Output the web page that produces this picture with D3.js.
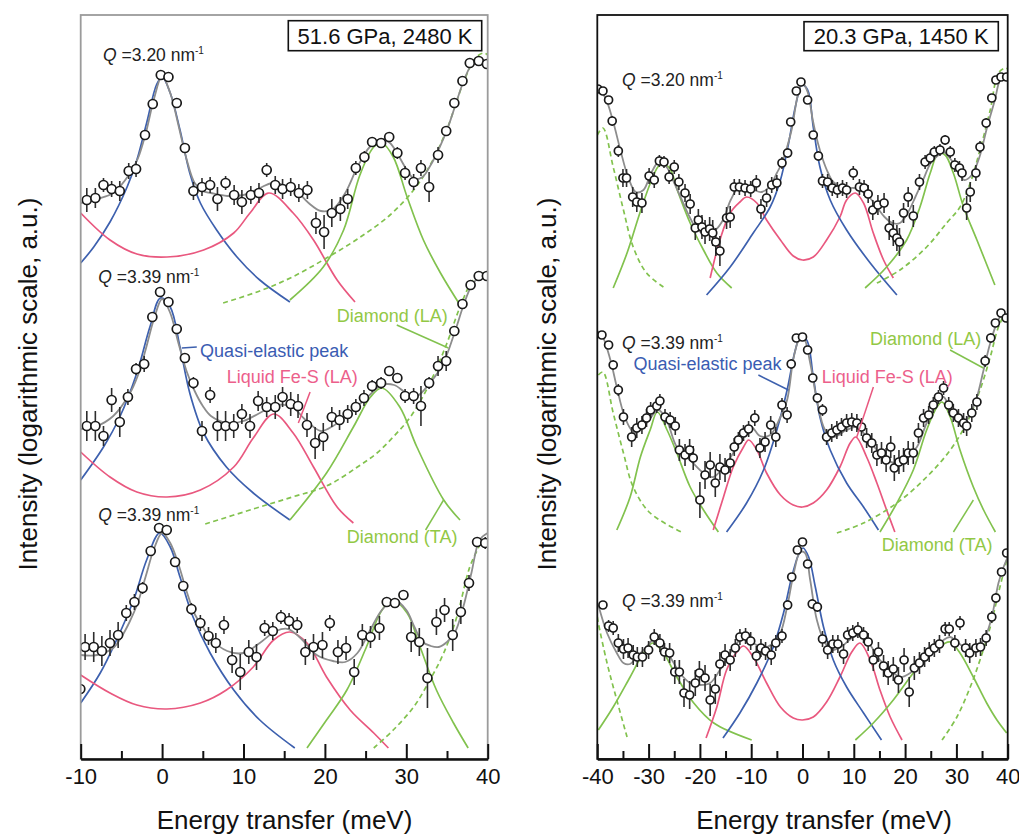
<!DOCTYPE html>
<html>
<head>
<meta charset="utf-8">
<script src="https://cdn.jsdelivr.net/npm/d3@7"></script>
<style>
  body { margin: 0; background: #fff; }
  svg { display: block; }
  text { font-family: "Liberation Sans", Arial, sans-serif; }
</style>
</head>
<body>
<svg id="chart" width="1019" height="837"></svg>
<script>
// ---------------- data ----------------
// Panel A: 51.6 GPa, 2480 K   (energy transfer in meV, intensity in log a.u., offsets included)
const p516_ticks = [-10, 0, 10, 20, 30, 40];
const p516_minor = [-5, 5, 15, 25, 35];

const p516_q320_E = [-9.25,-8.2,-7.2,-6.2,-5.2,-4.1,-3.2,-2.1,-1.15,-0.16,0.78,1.8,2.8,3.85,4.9,5.9,6.8,7.8,8.85,9.8,10.9,11.9,12.85,13.9,14.8,15.8,16.8,17.85,18.9,19.9,20.85,21.9,22.8,23.8,24.85,25.8,26.9,27.9,28.9,29.85,30.9,31.8,32.8,33.9,34.9,35.9,36.9,37.8,38.9,39.9];
const p516_q320_I = [55.9,56.1,57.4,57.0,56.8,58.8,59.0,62.4,65.5,68.4,68.2,65.6,61.1,56.8,57.2,57.4,56.0,57.6,56.4,55.7,56.4,56.6,58.9,57.4,57.0,57.2,56.6,56.9,53.6,52.7,54.6,55.0,56.0,59.1,60.2,61.7,61.6,62.2,60.6,58.6,57.7,59.1,57.2,60.4,62.8,65.6,67.8,69.6,69.8,69.5];
const p516_q320_err = [1.2,1.0,0.7,0.8,1.0,0.8,0.8,0.5,0.4,0.3,0.3,0.4,0.5,0.9,0.9,0.8,1.2,0.7,1.0,1.2,0.9,1.0,0.7,0.9,1.0,0.9,0.9,0.9,1.1,1.7,1.4,1.2,1.0,0.7,0.6,0.5,0.5,0.5,0.6,0.7,0.8,0.8,1.5,0.8,0.5,0.4,0.3,0.3,0.3,0.3];
const p516_q320_fit = [[-10,55.6],[-8,56.0],[-6,56.6],[-4,58.5],[-3,60.0],[-2,62.6],[-1,66.0],[0,68.3],[1,66.6],[2,63.4],[3,60.0],[4,57.6],[5,56.8],[6,56.6],[8,56.3],[10,56.4],[12,57.1],[13.5,57.6],[15,57.4],[16.5,56.8],[18,55.6],[19.5,54.8],[21,55.0],[22.5,56.6],[24,59.2],[25.5,61.2],[27,62.0],[28,61.6],[29,60.4],[30,59.0],[31,58.0],[32,58.2],[33,59.4],[34,61.0],[35,62.9],[36,65.3],[37,67.7],[38,69.4],[39,70.0],[40,69.6]];
const p516_q320_qe = [[-10,49.6],[-8.4,51.2],[-6.4,53.7],[-4.3,57.2],[-3.1,59.9],[-1.9,63.6],[-0.65,67.5],[0,68.2],[1.0,66.6],[2.2,62.9],[3.4,58.6],[4.7,55.6],[6.7,52.9],[9.2,50.2],[12.0,47.9],[15.7,45.7]];
const p516_q320_lfs = [[-10,54.6],[-6.4,51.9],[-3.1,50.5],[0.6,50.2],[5.1,50.9],[8.8,52.6],[10.8,54.6],[13.1,56.6],[16.1,54.6],[18.6,51.9],[21.5,47.9],[23.7,45.7]];
const p516_q320_ta = [[15.7,45.9],[19.8,49.2],[22.3,52.9],[24.3,58.4],[26.0,61.2],[27.0,61.6],[28.4,60.2],[30.1,56.2],[32.1,51.9],[34.2,48.6],[36.6,45.4]];
const p516_q320_la = [[7.5,45.6],[12,46.8],[16,48.2],[20,50.0],[24,52.0],[28,54.4],[31,57.0],[33,59.5],[35,63.0],[37,67.6],[38.5,70.1],[39.5,70.6],[40,70.4]];

const p516_q339a_E = [-9.25,-8.2,-7.2,-6.2,-5.2,-4.2,-3.2,-2.2,-1.2,-0.25,0.78,1.8,2.8,3.85,4.9,5.9,6.8,7.8,8.8,9.8,10.8,11.8,12.85,13.9,14.8,15.8,16.7,17.8,18.8,19.8,20.85,21.8,22.8,23.8,24.8,25.8,26.9,27.9,28.9,29.85,30.9,31.8,32.8,33.9,34.9,35.9,36.9,37.9,38.9,39.9];
const p516_q339a_I = [33.3,33.3,32.3,35.9,33.7,36.2,39.0,39.5,44.2,46.7,45.7,43.0,40.1,37.6,32.8,36.4,33.3,33.3,33.3,34.5,33.3,35.8,35.2,35.2,36.2,35.5,35.3,33.4,31.6,32.2,34.2,33.9,34.5,35.2,36.1,37.3,37.6,38.8,38.1,36.3,36.3,35.3,37.6,39.3,39.8,42.8,45.5,47.4,48.3,48.3];
const p516_q339a_err = [1.5,1.5,1.0,1.2,1.5,0.8,0.6,0.8,0.4,0.3,0.3,0.4,0.5,0.6,1.0,0.8,1.5,1.5,1.2,1.0,1.2,1.0,1.0,1.2,1.0,1.2,1.2,1.2,1.6,1.4,1.0,1.0,0.9,0.8,0.8,0.6,0.6,0.5,0.5,0.7,0.8,2.0,0.6,1.0,1.0,0.5,0.4,0.3,0.3,0.3];
const p516_q339a_fit = [[-10,33.0],[-8,33.3],[-6,34.3],[-4,36.5],[-3,38.3],[-2,41.0],[-1,44.0],[0,46.0],[1,44.6],[2,41.6],[3,38.8],[4,36.8],[5,35.3],[6,34.3],[8,33.6],[10,33.8],[12,34.6],[14,35.4],[16,35.2],[17.5,34.0],[19.5,32.8],[21,33.3],[23,34.6],[25,36.0],[27,37.4],[28.5,37.4],[30,36.6],[31.3,36.3],[33,37.7],[34.5,39.5],[36,42.8],[37,45.3],[38,47.3],[39,48.2],[40,48.2]];
const p516_q339a_qe = [[-10,27.9],[-7.2,31.2],[-5.2,34.2],[-3.1,38.6],[-1.5,43.2],[-0.2,46.1],[1.0,45.2],[2.2,41.2],[3.4,36.6],[5.1,32.6],[7.9,29.2],[11.2,26.6],[15.7,23.9]];
const p516_q339a_lfs = [[-10,30.7],[-6.4,28.2],[-3.1,26.7],[0.6,26.2],[4.7,26.9],[8.8,29.2],[11.2,32.1],[13.7,34.5],[16.1,32.6],[18.6,29.2],[21.5,25.2],[23.5,23.6]];
const p516_q339a_ta = [[15.7,23.9],[20.2,28.6],[23.5,33.2],[25.6,36.2],[27.0,37.1],[29.2,35.2],[31.3,31.2],[34.6,25.9],[36.6,23.9]];
const p516_q339a_la = [[5.3,23.5],[11.2,25.0],[16,26.2],[20.2,27.3],[24,29.2],[26.4,30.6],[28.5,32.3],[30.5,34.2],[32.9,37.6],[35,41.6],[36.6,45.2],[38.2,47.9],[39.5,48.6],[40,48.5]];

const p516_q339b_E = [-10.05,-9.46,-8.4,-7.4,-6.4,-5.4,-4.4,-3.4,-2.4,-1.4,-0.37,0.57,1.6,2.6,3.6,4.7,5.7,6.6,7.6,8.6,9.6,10.65,11.6,12.6,13.6,14.6,15.6,16.6,17.6,18.6,19.7,20.6,21.6,22.6,23.6,24.6,25.6,26.7,27.6,28.6,29.65,30.6,31.6,32.6,33.7,34.7,35.7,36.7,37.7,38.7,39.7];
const p516_q339b_I = [7.0,11.2,11.2,10.8,11.6,12.4,14.6,15.7,17.1,20.8,23.1,22.9,19.7,17.3,15.0,13.6,12.3,11.6,13.4,9.9,8.7,10.7,10.2,13.1,12.8,14.2,13.8,13.4,10.7,11.2,11.4,13.6,10.7,11.1,8.7,12.4,12.2,13.1,15.7,15.6,16.4,12.2,11.7,8.1,13.7,14.9,12.4,14.7,17.6,21.7,21.6];
const p516_q339b_err = [0.5,1.3,1.5,1.5,1.3,1.3,0.8,0.8,0.6,0.3,0.3,0.3,0.3,0.5,0.6,0.8,0.9,1.0,0.9,1.3,1.8,1.2,1.3,0.8,0.9,0.7,0.8,0.8,1.3,1.3,1.3,0.8,1.2,1.2,1.3,1.1,1.1,1.2,0.5,0.5,0.5,1.5,1.4,3.0,1.3,1.2,1.6,1.2,0.8,0.5,0.6];
const p516_q339b_fit = [[-10,10.4],[-8,10.4],[-6,11.1],[-5,12.2],[-4,13.7],[-3,15.6],[-2,18.3],[-1,21.0],[0,22.6],[1,21.6],[2,19.5],[3,16.8],[4,14.5],[5,13.2],[6,12.0],[8,10.8],[10,10.6],[12,11.6],[14,12.8],[15.5,13.0],[17,12.1],[19,10.4],[21,9.8],[22.5,9.7],[24,10.6],[25.5,12.8],[27,14.9],[28.5,15.9],[30,14.9],[31,13.2],[32,11.7],[33,11.3],[34,11.2],[35,11.7],[36,12.7],[37,15.2],[38,18.6],[39,21.9],[40,22.6]];
const p516_q339b_qe = [[-10,5.6],[-7.6,8.6],[-5.6,11.9],[-3.5,15.9],[-1.9,19.9],[-0.3,22.6],[1.0,21.2],[2.2,18.2],[3.8,14.2],[5.9,10.6],[8.8,6.9],[12.0,3.9],[16.3,1.1]];
const p516_q339b_lfs = [[-10,8.4],[-6.4,6.6],[-3.1,5.4],[0.6,5.0],[4.7,5.6],[7.9,6.9],[11.2,9.2],[13.7,11.9],[15.7,12.7],[17.8,11.6],[20.2,8.2],[23.1,4.9],[26.0,2.6],[27.8,1.1]];
const p516_q339b_ta = [[17.8,1.1],[20.2,3.9],[22.7,6.9],[25.1,11.2],[26.8,14.6],[28.2,15.9],[30.1,14.6],[31.7,11.2],[33.7,6.9],[35.8,3.6],[37.6,1.1]];
const p516_q339b_la = [[26.0,1.1],[28.4,2.9],[30.9,5.2],[32.9,7.9],[34.6,10.6],[36.2,14.2],[37.8,19.2],[38.9,21.2],[39.3,21.9],[40,21.4]];

// Panel B: 20.3 GPa, 1450 K
const p203_ticks = [-40, -30, -20, -10, 0, 10, 20, 30, 40];
const p203_minor = [-35, -25, -15, -5, 5, 15, 25, 35];

const p203_q320_E = [-39.9,-38.9,-37.8,-37.1,-35.9,-35.0,-34.3,-33.1,-32.3,-31.3,-29.9,-28.9,-27.9,-27.0,-26.0,-25.0,-24.1,-22.9,-21.9,-20.9,-20.3,-19.6,-19.0,-18.1,-17.5,-16.9,-16.1,-14.8,-14.1,-13.3,-12.3,-11.2,-10.1,-9.0,-8.1,-7.0,-6.0,-5.0,-4.0,-2.9,-2.3,-1.2,-0.3,1.0,2.1,3.1,3.9,4.9,5.8,6.8,7.8,8.6,9.9,11.1,12.0,12.8,13.7,14.7,15.9,16.9,17.7,18.4,18.9,19.7,20.6,21.6,22.8,23.9,24.9,25.7,26.8,27.8,28.8,29.7,30.6,31.1,32.0,32.7,33.8,34.6,35.8,36.9,37.7,38.7,39.8];
const p203_q320_I = [67.0,66.8,65.9,63.8,60.8,58.1,58.1,56.2,55.7,55.6,58.3,57.9,59.8,59.7,58.2,59.2,57.7,56.6,55.5,53.1,53.9,53.2,52.7,53.0,52.6,51.7,50.8,54.1,54.2,57.2,57.2,57.1,57.0,57.6,55.0,56.1,57.4,57.6,59.6,60.6,63.7,66.8,67.7,65.9,62.4,60.3,57.8,57.7,57.1,56.9,57.1,56.9,58.6,57.2,57.1,56.5,54.9,55.4,55.6,53.1,52.6,52.1,51.7,54.6,56.2,54.3,57.7,59.7,60.1,60.7,60.9,61.9,60.7,59.4,59.1,58.6,55.1,56.7,58.6,61.2,63.6,66.1,67.9,68.2,68.2];
const p203_q320_err = [0.3,0.3,0.4,0.5,0.6,0.9,0.9,1.0,1.0,1.0,0.8,0.8,0.6,0.6,0.7,0.7,0.8,0.9,1.0,1.2,1.1,1.2,1.2,1.2,1.3,1.4,1.5,1.1,1.1,0.8,0.8,0.8,0.8,0.8,1.0,0.9,0.8,0.8,0.6,0.5,0.4,0.3,0.3,0.3,0.4,0.5,0.7,0.8,0.8,0.8,0.8,0.8,0.7,0.8,0.8,0.9,1.0,1.0,1.0,1.2,1.3,1.3,1.4,1.0,1.0,1.1,0.8,0.7,0.6,0.6,0.6,0.5,0.6,0.7,0.7,0.8,1.2,1.0,0.8,0.6,0.5,0.4,0.3,0.3,0.3];
const p203_q320_fit = [[-40,67.1],[-38.5,66.2],[-37,63.9],[-35.5,60.9],[-34,58.2],[-32.5,56.7],[-31,56.9],[-29.5,58.6],[-28,59.7],[-26.5,59.2],[-25,57.6],[-23.5,55.9],[-22,54.2],[-20.5,52.9],[-19,52.6],[-17,52.9],[-15.5,53.9],[-14,55.9],[-12.5,57.1],[-11,57.2],[-9.5,56.9],[-8,56.7],[-6.5,57.2],[-5,58.6],[-4,59.6],[-3,61.2],[-2,63.2],[-1,66.2],[0,67.6],[1,66.7],[2,63.9],[3,61.6],[4,59.9],[5,58.6],[6,57.7],[8,57.1],[10,57.1],[11.5,56.9],[13,56.2],[14.5,55.2],[16,54.2],[17.5,53.6],[19,53.6],[20.5,54.6],[22,56.2],[23.5,57.9],[25,59.6],[26.5,60.4],[27.5,60.7],[29,59.9],[30.5,58.6],[31.5,57.9],[33,58.4],[34.5,60.2],[36,63.2],[37.5,65.9],[38.5,67.9],[39.5,68.4],[40,68.2]];
const p203_q320_laL = [[-40,62.4],[-38.9,63.1],[-36.9,59.2],[-34.9,54.9],[-33.0,51.2],[-30.4,48.6],[-27.1,47.2]];
const p203_q320_taL = [[-36.9,47.1],[-34.2,50.6],[-31.7,54.6],[-29.4,57.9],[-27.8,59.4],[-26.1,59.2],[-24.2,56.6],[-21.9,53.6],[-19.3,50.9],[-16.7,48.6],[-13.8,47.1]];
const p203_q320_lfs = [[-18.0,48.1],[-16.1,51.9],[-14.1,54.6],[-12.2,55.7],[-10.9,56.2],[-8.9,55.6],[-7.0,53.9],[-4.3,51.9],[-1.8,50.3],[0,49.9],[2.1,50.2],[4.7,51.9],[7.3,54.2],[8.6,55.9],[10.3,56.6],[11.9,55.6],[13.8,52.6],[15.8,49.9],[17.7,48.1]];
const p203_q320_qe = [[-18.7,46.4],[-14.1,49.2],[-9.6,52.6],[-6.3,55.2],[-4.3,57.9],[-2.7,61.6],[-1.4,65.2],[-0.1,67.4],[1.0,66.9],[2.1,63.2],[3.4,59.2],[5.4,55.9],[8.6,52.9],[13.2,49.6],[18.4,46.4]];
const p203_q320_taR = [[12.2,47.1],[16.4,49.2],[20.3,51.9],[22.9,55.2],[24.9,58.6],[26.5,60.6],[27.8,60.4],[29.4,58.6],[31.4,55.2],[34.0,51.9],[37.5,47.4]];
const p203_q320_laR = [[14.5,47.6],[19.0,48.9],[24.2,51.2],[28.1,53.6],[30.7,55.2],[32.7,57.6],[34.6,60.9],[36.6,64.9],[38.2,68.6],[39.5,69.1],[40,69.0]];

const p203_q339a_E = [-39.1,-37.8,-36.9,-35.9,-34.9,-33.3,-32.3,-31.3,-30.4,-29.6,-28.4,-27.8,-26.8,-25.8,-24.8,-24.0,-22.9,-22.0,-21.3,-20.0,-19.0,-18.0,-17.0,-16.1,-15.1,-14.1,-13.3,-12.5,-11.5,-10.5,-9.3,-8.3,-7.3,-6.2,-5.2,-4.0,-3.0,-2.2,-1.2,0.0,1.0,2.0,2.9,3.9,4.7,5.7,6.7,7.6,8.6,9.6,10.6,11.5,12.5,13.5,14.5,15.4,16.3,17.2,17.9,18.8,19.7,20.6,21.6,22.6,23.6,24.6,25.5,26.5,27.5,28.5,29.4,30.4,31.4,32.0,33.0,34.0,35.6,36.7,37.6,38.7,39.7];
const p203_q339a_I = [42.4,41.4,39.4,36.9,34.2,32.2,33.1,33.4,34.1,34.9,35.3,35.8,34.2,33.9,33.3,30.9,30.4,30.9,30.1,25.9,28.4,29.4,27.6,29.2,28.9,29.6,31.2,31.9,32.6,33.0,34.1,31.1,31.7,33.4,32.2,35.4,34.4,39.5,42.1,42.2,40.9,38.1,36.1,34.9,32.2,32.6,32.9,33.2,33.6,33.7,33.6,33.2,32.1,31.6,30.4,30.6,29.9,31.2,29.1,29.7,29.9,30.6,30.6,32.6,34.1,34.4,35.4,36.2,37.1,35.4,34.6,34.1,33.6,33.3,34.6,35.7,39.8,42.1,43.6,44.6,44.1];
const p203_q339a_err = [0.4,0.4,0.5,0.6,0.8,1.0,1.0,0.9,0.9,0.8,0.7,0.7,0.8,0.8,0.9,1.1,1.1,1.1,1.2,1.8,1.4,1.3,1.4,1.3,1.2,1.0,0.9,0.8,0.8,0.8,0.8,1.0,1.0,0.9,1.0,0.7,0.8,0.5,0.3,0.3,0.3,0.4,0.5,0.6,0.8,0.9,0.9,0.9,0.9,0.9,0.9,0.9,1.0,1.0,1.1,1.1,1.2,1.1,1.3,1.2,1.2,1.2,1.1,1.0,0.9,0.9,0.8,0.7,0.7,0.8,0.9,0.9,1.0,1.0,0.9,0.8,0.6,0.5,0.4,0.3,0.4];
const p203_q339a_fit = [[-40,42.8],[-39.1,42.4],[-37.5,40.0],[-36.2,37.2],[-34.9,34.6],[-33.5,33.0],[-32.6,32.6],[-30.4,33.6],[-28.1,34.9],[-26.5,33.9],[-24.5,31.2],[-21.9,29.9],[-19.3,28.6],[-17.4,28.2],[-15.4,29.2],[-13.5,30.6],[-12,32.2],[-10,33.2],[-8.3,32.3],[-6.3,32.4],[-4.3,34.2],[-3.0,35.9],[-1.7,40.2],[-0.45,42.2],[0.2,42.2],[1.5,39.6],[2.8,35.9],[4.4,32.9],[6.0,32.2],[8.6,32.9],[10.6,33.2],[12.5,32.2],[14.5,30.9],[16.4,29.9],[18.4,29.6],[20.3,30.2],[22.3,31.2],[24.2,33.6],[26.2,35.6],[27.5,36.2],[28.8,34.9],[30.1,33.9],[31.4,33.6],[32.7,34.6],[34.0,36.2],[35.3,38.9],[36.6,41.6],[37.9,43.6],[38.9,44.4],[40,43.9]];
const p203_q339a_laL = [[-39.8,38.4],[-38.9,38.7],[-36.9,34.6],[-34.9,30.6],[-33.0,27.2],[-29.7,24.6],[-23.2,22.6]];
const p203_q339a_taL = [[-36.2,22.9],[-33.6,26.2],[-31.6,30.2],[-29.7,32.9],[-28.3,34.7],[-26.4,32.9],[-24.5,30.6],[-21.9,27.2],[-19.3,24.9],[-16.4,22.7]];
const p203_q339a_lfs = [[-17.4,22.9],[-15.4,26.2],[-13.5,29.2],[-11.5,31.2],[-10.5,31.9],[-8.9,30.9],[-7.0,28.6],[-4.3,26.4],[-1.8,25.4],[0,25.2],[2.1,25.6],[4.7,26.9],[7.3,29.2],[9.3,31.6],[10.4,32.2],[12.5,30.2],[14.5,27.6],[16.4,24.9],[18.0,22.7]];
const p203_q339a_qe = [[-14.8,22.7],[-10.9,25.6],[-7.6,28.9],[-5.0,32.9],[-3.0,36.9],[-1.4,40.9],[-0.45,42.2],[0.8,41.9],[2.1,38.2],[3.4,34.2],[5.4,30.9],[8.6,27.6],[11.9,25.2],[14.8,22.9]];
const p203_q339a_taR = [[15.1,22.7],[18.4,25.6],[21.6,28.9],[24.2,32.9],[26.2,35.2],[27.2,35.7],[28.8,34.2],[30.7,30.9],[33.3,27.2],[35.3,24.9],[37.6,22.7]];
const p203_q339a_laR = [[6.7,22.6],[11.9,23.6],[18.4,25.6],[24.2,28.2],[28.8,30.9],[32.0,33.6],[34.6,36.9],[36.6,40.2],[38.2,43.2],[39.5,44.4],[40,44.3]];

const p203_q339b_E = [-38.9,-37.8,-36.9,-35.9,-34.9,-34.0,-33.0,-32.2,-31.2,-30.0,-28.9,-27.8,-26.9,-25.9,-24.9,-24.0,-23.1,-22.0,-20.9,-20.1,-19.0,-18.0,-17.0,-16.1,-15.1,-14.1,-13.1,-12.2,-11.1,-10.1,-9.0,-8.1,-7.2,-6.1,-5.2,-4.0,-2.9,-2.1,-1.0,0.0,1.0,1.9,2.9,3.9,4.9,5.9,6.9,8.0,8.8,9.8,10.8,11.9,12.8,13.8,14.8,15.8,16.7,17.7,18.7,19.8,20.8,21.8,22.8,23.8,24.7,25.7,26.7,27.8,28.6,29.7,30.7,31.8,32.6,33.8,34.7,35.8,36.9,37.7,38.8,39.8];
const p203_q339b_I = [15.4,13.3,13.1,11.6,11.0,11.1,10.4,10.2,10.2,10.9,12.2,11.6,10.7,10.6,8.7,8.7,6.6,6.4,7.6,8.6,8.1,5.9,7.0,9.5,10.4,9.9,11.1,12.2,12.3,11.8,10.3,11.1,10.8,10.4,11.6,12.3,15.4,18.2,20.9,21.7,19.5,15.5,15.2,12.0,10.9,11.5,11.5,10.5,12.4,12.6,12.9,12.4,11.7,9.9,10.7,9.3,8.6,9.0,7.9,9.9,6.7,9.1,9.6,10.2,10.7,11.1,11.5,13.0,13.0,11.6,13.6,11.1,10.6,11.1,11.2,12.1,14.2,16.1,18.7,20.6];
const p203_q339b_err = [0.4,0.6,0.7,0.9,1.0,1.0,1.0,1.0,1.0,0.9,0.8,0.9,0.9,1.0,1.2,1.2,1.4,1.4,1.3,1.2,1.3,1.6,1.5,1.2,1.1,1.1,0.9,0.8,0.8,0.9,1.0,0.9,0.9,1.0,0.8,0.7,0.5,0.4,0.3,0.3,0.3,0.5,0.5,0.8,0.9,0.9,0.9,1.0,0.8,0.8,0.8,0.8,0.9,1.1,1.0,1.1,1.2,1.2,1.3,1.2,1.5,1.2,1.1,1.0,1.0,0.9,0.9,0.7,0.7,0.8,0.7,0.9,1.0,0.9,0.9,0.8,0.6,0.5,0.4,0.3];
const p203_q339b_fit = [[-39.8,15.4],[-38.1,12.6],[-36.2,10.6],[-34.9,9.6],[-33.6,9.5],[-32.3,10.2],[-30.4,11.2],[-29.1,11.9],[-27.8,11.6],[-25.8,10.2],[-23.9,8.6],[-21.9,7.6],[-20.0,7.4],[-18.0,7.6],[-16.1,8.9],[-14.1,10.6],[-12.2,11.9],[-10.9,12.1],[-9.6,11.6],[-7.6,11.1],[-5.7,11.6],[-4.3,12.6],[-3.0,15.2],[-1.7,18.6],[-0.45,20.7],[0.5,20.6],[1.5,17.9],[2.8,13.9],[4.4,11.6],[6.0,10.9],[8.0,11.4],[9.9,12.2],[11.5,12.4],[13.2,11.4],[15.1,9.9],[17.1,8.9],[19.0,8.2],[21.0,8.6],[22.9,9.6],[25.5,10.9],[27.5,11.9],[28.8,12.2],[30.1,11.7],[32.0,11.1],[34.0,11.2],[35.6,12.2],[36.9,14.2],[38.2,17.6],[39.2,19.2],[40,20.2]];
const p203_q339b_laL = [[-40,14.2],[-39.8,13.6],[-38.1,9.6],[-36.2,5.9],[-34.2,2.2]];
const p203_q339b_taL = [[-39.8,2.9],[-36.9,5.2],[-33.6,8.2],[-31.0,10.6],[-29.2,11.6],[-27.1,10.6],[-24.5,8.2],[-21.2,5.6],[-17.3,3.6],[-9.9,1.9]];
const p203_q339b_lfs = [[-18.8,2.1],[-16.7,5.2],[-14.8,8.9],[-12.8,10.7],[-11.5,11.3],[-9.6,10.2],[-7.0,7.6],[-4.3,5.2],[-1.8,4.1],[0,3.9],[2.1,4.2],[4.7,5.7],[7.3,8.2],[9.6,10.7],[11.2,11.6],[13.2,9.9],[15.1,6.9],[17.1,4.2],[19.4,1.9]];
const p203_q339b_qe = [[-15.5,2.1],[-12.2,4.6],[-8.9,7.6],[-5.7,11.2],[-3.7,14.6],[-2.1,18.2],[-0.8,20.4],[0.1,21.1],[1.2,20.2],[2.5,17.2],[4.1,13.2],[6.0,9.9],[8.6,7.2],[11.9,4.6],[15.4,1.9]];
const p203_q339b_taR = [[10.3,1.9],[13.8,3.6],[17.7,5.9],[21.6,8.6],[24.9,10.6],[27.5,11.5],[28.8,11.7],[30.7,10.6],[33.3,8.2],[35.9,5.6],[37.9,3.9],[39.8,2.6]];
const p203_q339b_laR = [[27.2,1.9],[30.1,4.2],[32.7,7.2],[34.6,9.9],[36.6,13.2],[38.2,16.6],[39.8,19.9]];

// Q values and where their labels sit (meV, log a.u.)
const p516_qValues = ["3.20", "3.39", "3.39"];
const p516_qAt = [[-7.25, 69.8], [-7.83, 47.6], [-7.83, 23.8]];
const p203_qValues = ["3.20", "3.39", "3.39"];
const p203_qAt = [[-35.2, 67.3], [-35.2, 41.0], [-35.2, 15.2]];

// component labels, label anchors and leader lines
const componentNames = ["Quasi-elastic peak", "Liquid Fe-S (LA)", "Diamond (LA)", "Diamond (TA)"];
const p516_nameAt = [[4.67, 40.2], [7.95, 37.6], [21.46, 43.7], [22.69, 21.6]];
const p516_leaders = [[[2.42, 41.1], [4.26, 41.2]], [[18.18, 36.7], [16.74, 33.6]], [[28.83, 43.4], [35.17, 41.1]], [[32.37, 22.9], [34.58, 25.9]]];
const p203_nameAt = [[-32.96, 38.9], [3.76, 37.6], [13.18, 41.4], [15.46, 20.8]];
const p203_leaders = [[[-8.6, 38.4], [-2.75, 36.9]], [[13.82, 37.2], [10.58, 32.2]], [[28.77, 40.9], [35.26, 39.1]], [[29.42, 22.7], [33.31, 25.9]]];

// ---------------- styling ----------------
const BLUE = "#3d60ae", PINK = "#e9587f", GREEN = "#82c24e";
const BLUE_TXT = "#3a5cb2", PINK_TXT = "#ec5f8b", GREEN_TXT = "#92c845";
const nameColors = [BLUE_TXT, PINK_TXT, GREEN_TXT, GREEN_TXT];
const leaderColors = [BLUE, PINK, GREEN, GREEN];

const svg = d3.select("#chart");
const PLOT_TOP = 15, PLOT_BOTTOM = 759;
const y = d3.scaleLinear().domain([0, 75]).range([PLOT_BOTTOM, 9]);

function spectrum(E, I, err, fit, parts) {
  return { pts: E.map((e, i) => ({ e, v: I[i], s: err[i] })), fit, parts };
}

const panels = [
  {
    id: "a",
    x: d3.scaleLinear().domain([-10, 40]).range([80.7, 487.7]),
    ticks: p516_ticks, minor: p516_minor,
    frameColor: "#9b9b9b",
    condition: "51.6 GPa, 2480 K", box: [288.3, 20.7, 193.4, 30],
    r: 4.5,
    qValues: p516_qValues, qAt: p516_qAt,
    nameAt: p516_nameAt, leaders: p516_leaders,
    titleX: 284.5, yTitleX: 37,
    spectra: [
      spectrum(p516_q320_E, p516_q320_I, p516_q320_err, p516_q320_fit,
        [[p516_q320_qe, BLUE], [p516_q320_lfs, PINK], [p516_q320_ta, GREEN], [p516_q320_la, GREEN, true]]),
      spectrum(p516_q339a_E, p516_q339a_I, p516_q339a_err, p516_q339a_fit,
        [[p516_q339a_qe, BLUE], [p516_q339a_lfs, PINK], [p516_q339a_ta, GREEN], [p516_q339a_la, GREEN, true]]),
      spectrum(p516_q339b_E, p516_q339b_I, p516_q339b_err, p516_q339b_fit,
        [[p516_q339b_qe, BLUE], [p516_q339b_lfs, PINK], [p516_q339b_ta, GREEN], [p516_q339b_la, GREEN, true]])
    ]
  },
  {
    id: "b",
    x: d3.scaleLinear().domain([-40, 40]).range([597.3, 1007.7]),
    ticks: p203_ticks, minor: p203_minor,
    frameColor: "#111",
    condition: "20.3 GPa, 1450 K", box: [804, 21.7, 194.3, 29],
    r: 4,
    qValues: p203_qValues, qAt: p203_qAt,
    nameAt: p203_nameAt, leaders: p203_leaders,
    titleX: 824, yTitleX: 556,
    spectra: [
      spectrum(p203_q320_E, p203_q320_I, p203_q320_err, p203_q320_fit,
        [[p203_q320_laL, GREEN, true], [p203_q320_taL, GREEN], [p203_q320_lfs, PINK], [p203_q320_qe, BLUE], [p203_q320_taR, GREEN], [p203_q320_laR, GREEN, true]]),
      spectrum(p203_q339a_E, p203_q339a_I, p203_q339a_err, p203_q339a_fit,
        [[p203_q339a_laL, GREEN, true], [p203_q339a_taL, GREEN], [p203_q339a_lfs, PINK], [p203_q339a_qe, BLUE], [p203_q339a_taR, GREEN], [p203_q339a_laR, GREEN, true]]),
      spectrum(p203_q339b_E, p203_q339b_I, p203_q339b_err, p203_q339b_fit,
        [[p203_q339b_laL, GREEN, true], [p203_q339b_taL, GREEN], [p203_q339b_lfs, PINK], [p203_q339b_qe, BLUE], [p203_q339b_taR, GREEN], [p203_q339b_laR, GREEN, true]])
    ]
  }
];

const defs = svg.append("defs");

panels.forEach(p => {
  const [x0, x1] = p.x.range();
  const curve = d3.line().x(d => p.x(d[0])).y(d => y(d[1])).curve(d3.curveCatmullRom.alpha(0.5));

  defs.append("clipPath").attr("id", "clip-" + p.id)
    .append("rect").attr("x", x0).attr("y", PLOT_TOP).attr("width", x1 - x0).attr("height", PLOT_BOTTOM - PLOT_TOP);

  const g = svg.append("g");
  const plot = g.append("g").attr("clip-path", `url(#clip-${p.id})`);

  // fitted components
  p.spectra.forEach(s => {
    s.parts.forEach(([pts, color, dashed]) => {
      plot.append("path").datum(pts)
        .attr("d", curve)
        .attr("fill", "none")
        .attr("stroke", color)
        .attr("stroke-width", 1.7)
        .attr("stroke-dasharray", dashed ? "5,3.5" : null);
    });
  });

  // total fit
  p.spectra.forEach(s => {
    plot.append("path").datum(s.fit)
      .attr("d", curve)
      .attr("fill", "none")
      .attr("stroke", "#8d8d8d")
      .attr("stroke-width", 1.8);
  });

  // measured spectra: error bars then open circles
  p.spectra.forEach(s => {
    plot.append("g").selectAll("line").data(s.pts).join("line")
      .attr("x1", d => p.x(d.e)).attr("x2", d => p.x(d.e))
      .attr("y1", d => y(d.v - d.s)).attr("y2", d => y(d.v + d.s))
      .attr("stroke", "#2e2e2e").attr("stroke-width", 1.6);
    plot.append("g").selectAll("circle").data(s.pts).join("circle")
      .attr("cx", d => p.x(d.e)).attr("cy", d => y(d.v))
      .attr("r", p.r)
      .attr("fill", "#fff")
      .attr("stroke", "#1a1a1a")
      .attr("stroke-width", 1.7);
  });

  // leader lines and component names
  p.leaders.forEach((seg, i) => {
    g.append("path").datum(seg)
      .attr("d", d3.line().x(d => p.x(d[0])).y(d => y(d[1])))
      .attr("stroke", leaderColors[i]).attr("stroke-width", 1.5).attr("fill", "none");
  });
  p.nameAt.forEach((pos, i) => {
    g.append("text")
      .attr("x", p.x(pos[0])).attr("y", y(pos[1]))
      .attr("font-size", 18)
      .attr("fill", nameColors[i])
      .text(componentNames[i]);
  });

  // Q labels
  p.qAt.forEach((pos, i) => {
    const t = g.append("text")
      .attr("x", p.x(pos[0])).attr("y", y(pos[1]))
      .attr("font-size", 17.5)
      .attr("fill", "#222");
    t.append("tspan").attr("font-style", "italic").text("Q");
    t.append("tspan").text(" =" + p.qValues[i] + " nm");
    t.append("tspan").attr("font-size", 10).attr("dy", -7).text("-1");
  });

  // frame
  g.append("rect")
    .attr("x", x0).attr("y", PLOT_TOP).attr("width", x1 - x0).attr("height", PLOT_BOTTOM - PLOT_TOP)
    .attr("fill", "none").attr("stroke", p.frameColor).attr("stroke-width", 1.8);

  // bottom axis with inward ticks
  const axisMinor = d3.axisBottom(p.x).tickValues(p.minor).tickSize(-8).tickSizeOuter(0).tickFormat("");
  const axisMajor = d3.axisBottom(p.x).tickValues(p.ticks).tickSize(-15).tickSizeOuter(0).tickPadding(9)
    .tickFormat(d => String(d));
  const ga = g.append("g").attr("transform", `translate(0,${PLOT_BOTTOM})`);
  ga.call(axisMinor);
  const gb = g.append("g").attr("transform", `translate(0,${PLOT_BOTTOM})`);
  gb.call(axisMajor);
  [ga, gb].forEach(a => {
    a.select(".domain").attr("stroke", "#111").attr("stroke-width", 2);
    a.selectAll(".tick line").attr("stroke", "#111").attr("stroke-width", 2);
  });
  gb.selectAll(".tick text")
    .attr("font-family", "Liberation Sans, Arial, sans-serif")
    .attr("font-size", 22)
    .attr("fill", "#111");

  // condition box
  const [bx, by, bw, bh] = p.box;
  g.append("rect").attr("x", bx).attr("y", by).attr("width", bw).attr("height", bh)
    .attr("fill", "#fff").attr("stroke", "#111").attr("stroke-width", 1.6);
  g.append("text")
    .attr("x", bx + bw / 2).attr("y", by + bh / 2 + 8)
    .attr("text-anchor", "middle")
    .attr("font-size", 22).attr("fill", "#111")
    .text(p.condition);

  // axis titles
  g.append("text")
    .attr("x", p.titleX).attr("y", 829)
    .attr("text-anchor", "middle")
    .attr("font-size", 26).attr("fill", "#111")
    .text("Energy transfer (meV)");
  g.append("text")
    .attr("transform", `translate(${p.yTitleX},384) rotate(-90)`)
    .attr("text-anchor", "middle")
    .attr("font-size", 26).attr("fill", "#111")
    .text("Intensity (logarithmic scale, a.u.)");
});
</script>
</body>
</html>
